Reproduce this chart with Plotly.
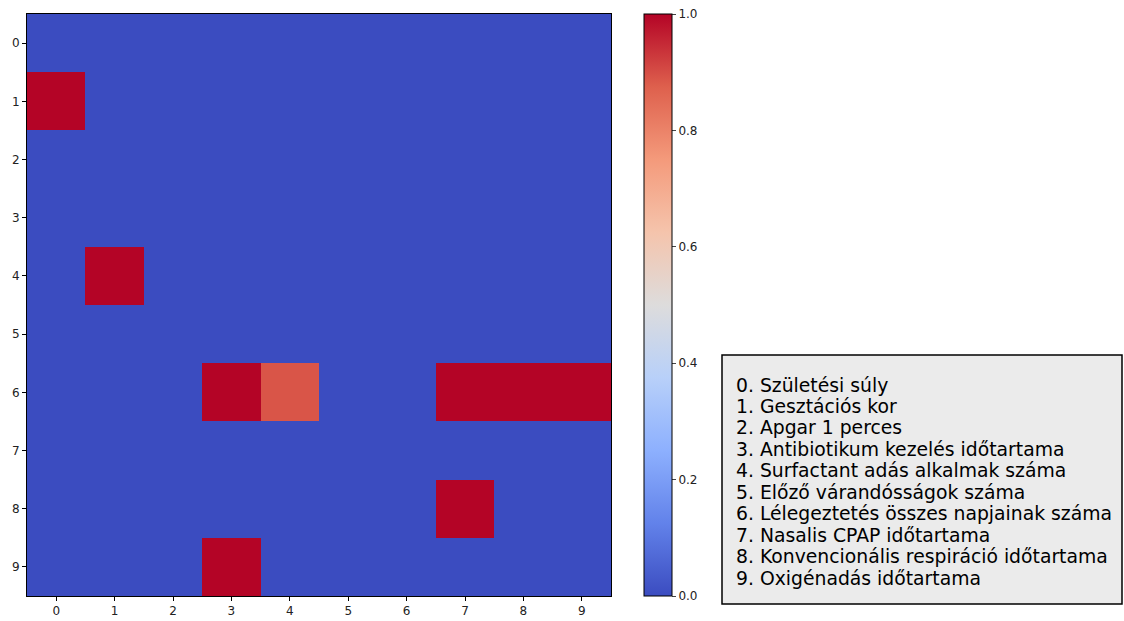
import plotly.graph_objects as go

rows = list(range(10))
cols = list(range(10))
# matrix values (row-major, rows 0..9)
z_values = [
    [0, 0, 0, 0, 0, 0, 0, 0, 0, 0],
    [1, 0, 0, 0, 0, 0, 0, 0, 0, 0],
    [0, 0, 0, 0, 0, 0, 0, 0, 0, 0],
    [0, 0, 0, 0, 0, 0, 0, 0, 0, 0],
    [0, 1, 0, 0, 0, 0, 0, 0, 0, 0],
    [0, 0, 0, 0, 0, 0, 0, 0, 0, 0],
    [0, 0, 0, 1, 0.89, 0, 0, 1, 1, 1],
    [0, 0, 0, 0, 0, 0, 0, 0, 0, 0],
    [0, 0, 0, 0, 0, 0, 0, 1, 0, 0],
    [0, 0, 0, 1, 0, 0, 0, 0, 0, 0],
]
legend_lines = [
    "0. Születési súly",
    "1. Gesztációs kor",
    "2. Apgar 1 perces",
    "3. Antibiotikum kezelés időtartama",
    "4. Surfactant adás alkalmak száma",
    "5. Előző várandósságok száma",
    "6. Lélegeztetés összes napjainak száma",
    "7. Nasalis CPAP időtartama",
    "8. Konvencionális respiráció időtartama",
    "9. Oxigénadás időtartama",
]
cbar_ticks = [0.0, 0.2, 0.4, 0.6, 0.8, 1.0]

coolwarm = [
    [0.0, "#3b4cc0"], [0.125, "#6282ea"], [0.25, "#8db0fe"], [0.375, "#b8d0f9"],
    [0.5, "#dddcdc"], [0.625, "#f5c4ac"], [0.75, "#f49a7b"], [0.875, "#de604d"],
    [1.0, "#b40426"],
]

W, H = 1124, 621
px = lambda v: v / W
py = lambda v: 1 - v / H

fig = go.Figure()
fig.add_trace(go.Heatmap(
    z=z_values, x=cols, y=rows, colorscale=coolwarm, zmin=0, zmax=1,
    xgap=0, ygap=0,
    colorbar=dict(
        x=px(644), xanchor="left", xref="paper", xpad=0, ypad=0,
        y=py(305), yanchor="middle",
        lenmode="pixels", len=582, thicknessmode="pixels", thickness=28,
        outlinewidth=1, outlinecolor="black",
        tickvals=cbar_ticks, tickformat=".1f", ticks="outside", ticklen=4,
        tickfont=dict(family="DejaVu Sans", size=12, color="#222"),
    ),
))

fig.update_xaxes(
    domain=[px(27), px(611)], range=[-0.5, 9.5], tickvals=cols,
    showline=True, mirror=True, linecolor="black", linewidth=1,
    ticks="outside", ticklen=4, tickcolor="black", showgrid=False, zeroline=False,
    tickfont=dict(family="DejaVu Sans", size=12, color="#222"),
)
fig.update_yaxes(
    domain=[py(596), py(14)], range=[9.5, -0.5], tickvals=rows,
    showline=True, mirror=True, linecolor="black", linewidth=1,
    ticks="outside", ticklen=4, tickcolor="black", showgrid=False, zeroline=False,
    tickfont=dict(family="DejaVu Sans", size=12, color="#222"),
)

fig.add_shape(type="rect", xref="paper", yref="paper",
              x0=px(722), x1=px(1122), y0=py(604), y1=py(355),
              fillcolor="#ebebeb", line=dict(color="black", width=1.5), layer="below")
for i, t in enumerate(legend_lines):
    fig.add_annotation(
        xref="paper", yref="paper", x=px(734), y=py(385 + 21.45 * i),
        xanchor="left", yanchor="middle", text=t, showarrow=False,
        font=dict(family="DejaVu Sans", size=18.8, color="black"),
    )

fig.update_layout(
    width=W, height=H, margin=dict(l=0, r=0, t=0, b=0),
    paper_bgcolor="white", plot_bgcolor="white",
)
fig.write_html("out.html")
